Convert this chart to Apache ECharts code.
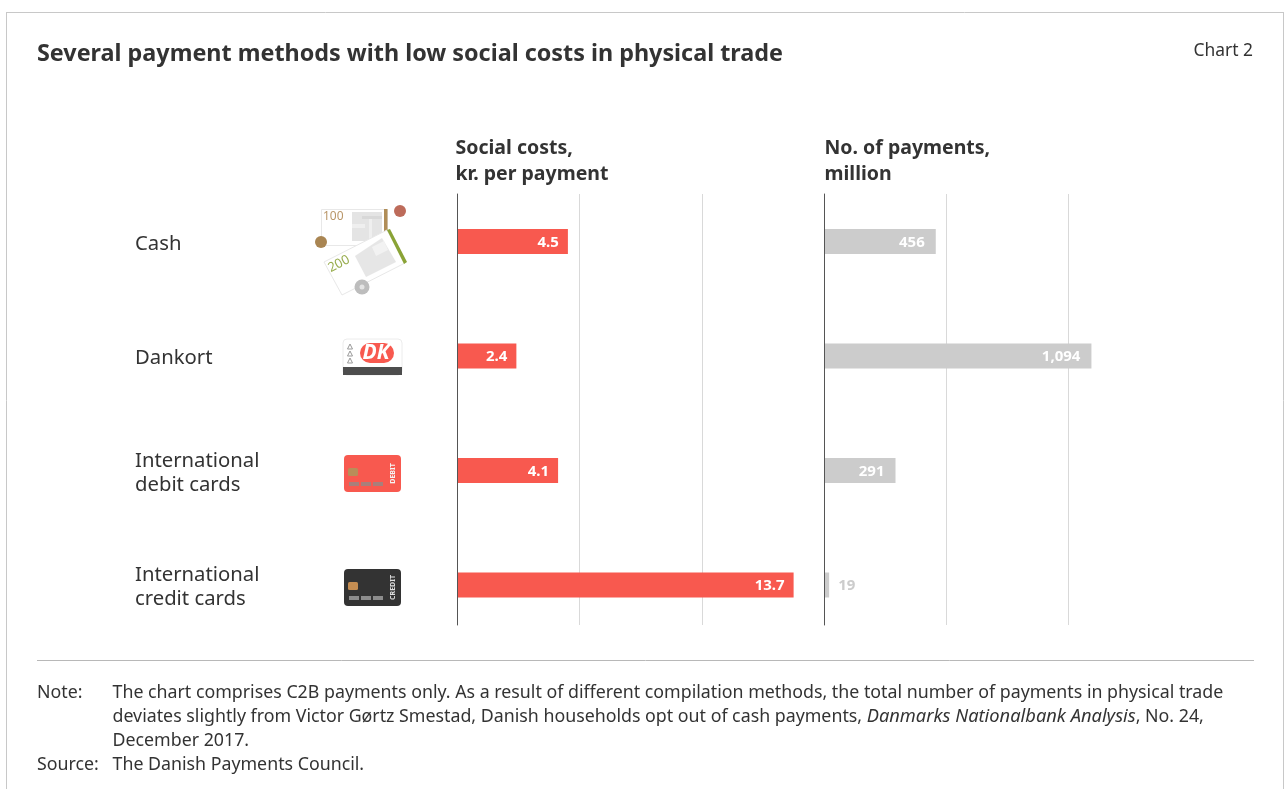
<!DOCTYPE html>
<html>
<head>
<meta charset="utf-8">
<title>Payment methods</title>
<style>
html,body{margin:0;padding:0;background:#fff}
#chart{width:1285px;height:789px}
</style>
<script src="https://cdn.jsdelivr.net/npm/echarts@6/dist/echarts.min.js"></script>
</head>
<body>
<div id="chart"></div>
<script>
// Payment methods, top to bottom
const categories = ['Cash', 'Dankort', 'International\ndebit cards', 'International\ncredit cards'];
const socialCosts = [4.5, 2.4, 4.1, 13.7];      // kr. per payment
const paymentCounts = [456, 1094, 291, 19];     // million payments
const outsideLabelBelow = 100;                  // shorter bars carry their label outside

const FONT = '"Noto Sans", sans-serif';
const INK = '#333333';
const RED = '#f8594f';
const GREY = '#cccccc';
const NOTE_SIZE = 17.8;

const txt = (x, y, text, size, extra) => ({
  type: 'text', x, y, silent: true,
  style: Object.assign({text, fontFamily: FONT, fontSize: size, fill: INK, textVerticalAlign: 'middle'}, extra || {})
});
const rect = (x, y, w, h, fill, r, stroke) => ({
  type: 'rect', silent: true,
  shape: {x, y, width: w, height: h, r: r || 0},
  style: {fill, stroke: stroke || null, lineWidth: stroke ? 1 : 0}
});
const poly = (points, fill, stroke) => ({
  type: 'polygon', silent: true, shape: {points},
  style: {fill, stroke: stroke || null, lineWidth: stroke ? 1 : 0}
});
const coin = (cx, cy, r, fill) => ({type: 'circle', silent: true, shape: {cx, cy, r}, style: {fill}});
const hline = (x1, x2, y, color) => ({
  type: 'line', silent: true, shape: {x1, y1: y, x2, y2: y}, style: {stroke: color, lineWidth: 1}
});
const vline = (x, y1, y2, color) => ({
  type: 'line', silent: true, shape: {x1: x, y1, x2: x, y2}, style: {stroke: color, lineWidth: 1}
});

// Bank notes and coins
const cashIcon = [
  rect(321.5, 209.5, 66, 36, '#ffffff', 0, '#e8e8e8'),
  rect(352, 212, 30, 29, '#e4e4e4'),
  rect(352, 224, 13, 4, '#efefef'),
  rect(369, 216, 3, 24, '#efefef'),
  rect(362, 216, 20, 3, '#d8d8d8'),
  rect(384, 209, 3.5, 23, '#b08d57'),
  txt(323, 217, '100', 12, {fill: '#b99668'}),
  coin(400, 211, 6, '#bd6b5a'),
  coin(321, 242, 6, '#a98552'),
  poly([[324, 262], [387, 230], [405, 263], [342, 295]], '#ffffff', '#e8e8e8'),
  poly([[355, 256], [382, 238], [396, 262], [366, 277]], '#e6e6e6'),
  poly([[372, 247], [384, 241], [388, 250], [376, 256]], '#f2f2f2'),
  poly([[387, 230], [390, 229], [407, 262], [404, 264]], '#8aa336'),
  Object.assign(txt(339, 264, '200', 13, {fill: '#98ad4e', textAlign: 'center'}), {rotation: 27 * Math.PI / 180}),
  coin(362, 287, 7.5, '#bdbdbd'),
  coin(362, 287, 2.5, '#e4e4e4')
];

// Dankort card with its logo
const dankortIcon = [
  rect(343, 339, 59, 36, '#ffffff', 4, '#ececec'),
  rect(343, 367, 59, 8, '#4d4d4d'),
  rect(360, 343, 34, 20, RED, 10),
  txt(376, 353, 'DK', 21, {fill: '#ffffff', fontWeight: 'bold', fontStyle: 'italic', textAlign: 'center'}),
  poly([[350, 344], [352.5, 349], [347.5, 349]], '#ffffff', '#999999'),
  poly([[350, 351], [352.5, 356], [347.5, 356]], '#ffffff', '#999999'),
  poly([[350, 358], [352.5, 363], [347.5, 363]], '#ffffff', '#999999')
];

const paymentCard = (top, fill, chip, stripe, label, labelFill) => [
  rect(344, top, 57, 37, fill, 4),
  rect(348, top + 13, 10, 8, chip, 1.5),
  rect(349, top + 27, 10, 4, stripe),
  rect(361, top + 27, 10, 4, stripe),
  rect(373, top + 27, 10, 4, stripe),
  Object.assign(txt(393, top + 18.5, label, 7, {fill: labelFill, fontWeight: 'bold', textAlign: 'center'}), {
    rotation: Math.PI / 2
  })
];

const noteBody = [
  'The chart comprises C2B payments only. As a result of different compilation methods, the total number of payments in physical trade',
  'deviates slightly from Victor Gørtz Smestad, Danish households opt out of cash payments, {it|Danmarks Nationalbank Analysis}, No. 24,',
  'December 2017.'
];

const noteText = (x, y, text) => ({
  type: 'text', x, y, silent: true,
  style: {
    text, fontFamily: FONT, fontSize: NOTE_SIZE, fill: INK, textVerticalAlign: 'middle',
    rich: {it: {fontStyle: 'italic', fontFamily: FONT, fontSize: 18.3, fill: INK}}
  }
});

const valueAxis = (gridIndex, max, interval, split) => ({
  type: 'value', gridIndex, min: 0, max, interval,
  axisLine: {show: false}, axisTick: {show: false}, axisLabel: {show: false},
  splitLine: {show: split, showMinLine: false, showMaxLine: false, lineStyle: {color: '#d9d9d9', width: 1}}
});
const barValueLabel = (color, distance) => ({
  show: true, position: 'insideRight', distance, color, offset: [0, 1],
  fontFamily: FONT, fontWeight: 'bold', fontSize: 15
});
const frameAxis = gridIndex => ({
  type: 'value', gridIndex, min: 0, max: 1, z: 5,
  splitLine: {show: false}, axisTick: {show: false}, axisLabel: {show: false},
  axisLine: {show: true, onZero: false, lineStyle: {color: '#555555', width: 1}}
});
const bareCategoryAxis = gridIndex => ({
  type: 'category', gridIndex, data: categories, inverse: true,
  axisLine: {show: false}, axisTick: {show: false}, axisLabel: {show: false}
});

const option = {
  animation: false,
  backgroundColor: '#ffffff',
  // Grids 0 and 1 hold the bars, grids 2 and 3 the shorter ruled frame behind them,
  // grid 4 only the category names, set slightly below the bar centres
  grid: [
    {left: 457.5, top: 184.25, width: 368, height: 458},
    {left: 824.5, top: 184.25, width: 366, height: 458},
    {left: 457, top: 194, width: 367.5, height: 431},
    {left: 824, top: 194, width: 366, height: 431},
    {left: 457.5, top: 186.75, width: 368, height: 458}
  ],
  xAxis: [
    valueAxis(0, 15, 5, false),
    valueAxis(1, 1500, 500, false),
    valueAxis(2, 15, 5, true),
    valueAxis(3, 1500, 500, true),
    valueAxis(4, 15, 5, false)
  ],
  yAxis: [
    bareCategoryAxis(0),
    bareCategoryAxis(1),
    frameAxis(2),
    frameAxis(3),
    {
      type: 'category', gridIndex: 4, data: categories, inverse: true,
      axisLine: {show: false}, axisTick: {show: false},
      axisLabel: {
        show: true, align: 'left', margin: 322.5, color: INK,
        fontFamily: FONT, fontSize: 20.3, lineHeight: 24
      }
    }
  ],
  series: [
    {
      name: 'Social costs', type: 'bar', xAxisIndex: 0, yAxisIndex: 0,
      barWidth: 25, data: socialCosts,
      itemStyle: {color: RED},
      label: Object.assign(barValueLabel('#ffffff', 9), {formatter: p => p.value.toFixed(1)})
    },
    {
      name: 'No. of payments', type: 'bar', xAxisIndex: 1, yAxisIndex: 1,
      barWidth: 25,
      data: paymentCounts.map(value => value < outsideLabelBelow
        ? {value, label: {position: 'right', distance: 9, color: GREY}}
        : value),
      itemStyle: {color: GREY},
      label: Object.assign(barValueLabel('#ffffff', 11), {formatter: p => p.value.toLocaleString('en-US')})
    }
  ],
  graphic: {
    elements: [
      // Panel outline and the rule above the notes
      hline(6, 1284, 12.5, '#c8c8c8'),
      vline(6.5, 12, 789, '#c8c8c8'),
      vline(1283.5, 12, 789, '#c8c8c8'),
      hline(37, 1254, 660.5, '#b8b8b8'),

      txt(37, 54, 'Several payment methods with low social costs in physical trade', 23.35, {fontWeight: 'bold'}),
      txt(1253, 51, 'Chart 2', 17.4, {textAlign: 'right'}),

      txt(455.5, 148, 'Social costs,', 19.5, {fontWeight: 'bold'}),
      txt(455.5, 174, 'kr. per payment', 19.5, {fontWeight: 'bold'}),
      txt(824.5, 148, 'No. of payments,', 19.5, {fontWeight: 'bold'}),
      txt(824.5, 174, 'million', 19.5, {fontWeight: 'bold'}),

      ...cashIcon,
      ...dankortIcon,
      ...paymentCard(455, RED, '#b98d59', '#a87f7b', 'DEBIT', '#f5f5f5'),
      ...paymentCard(569, '#333333', '#c48d52', '#8c8c8c', 'CREDIT', '#dddddd'),

      noteText(37, 693, 'Note:'),
      noteText(112.5, 693, noteBody[0]),
      noteText(112.5, 717, noteBody[1]),
      noteText(112.5, 741, noteBody[2]),
      noteText(37, 765, 'Source:'),
      noteText(112.5, 765, 'The Danish Payments Council.')
    ]
  }
};

echarts.init(document.getElementById('chart')).setOption(option);
</script>
</body>
</html>
